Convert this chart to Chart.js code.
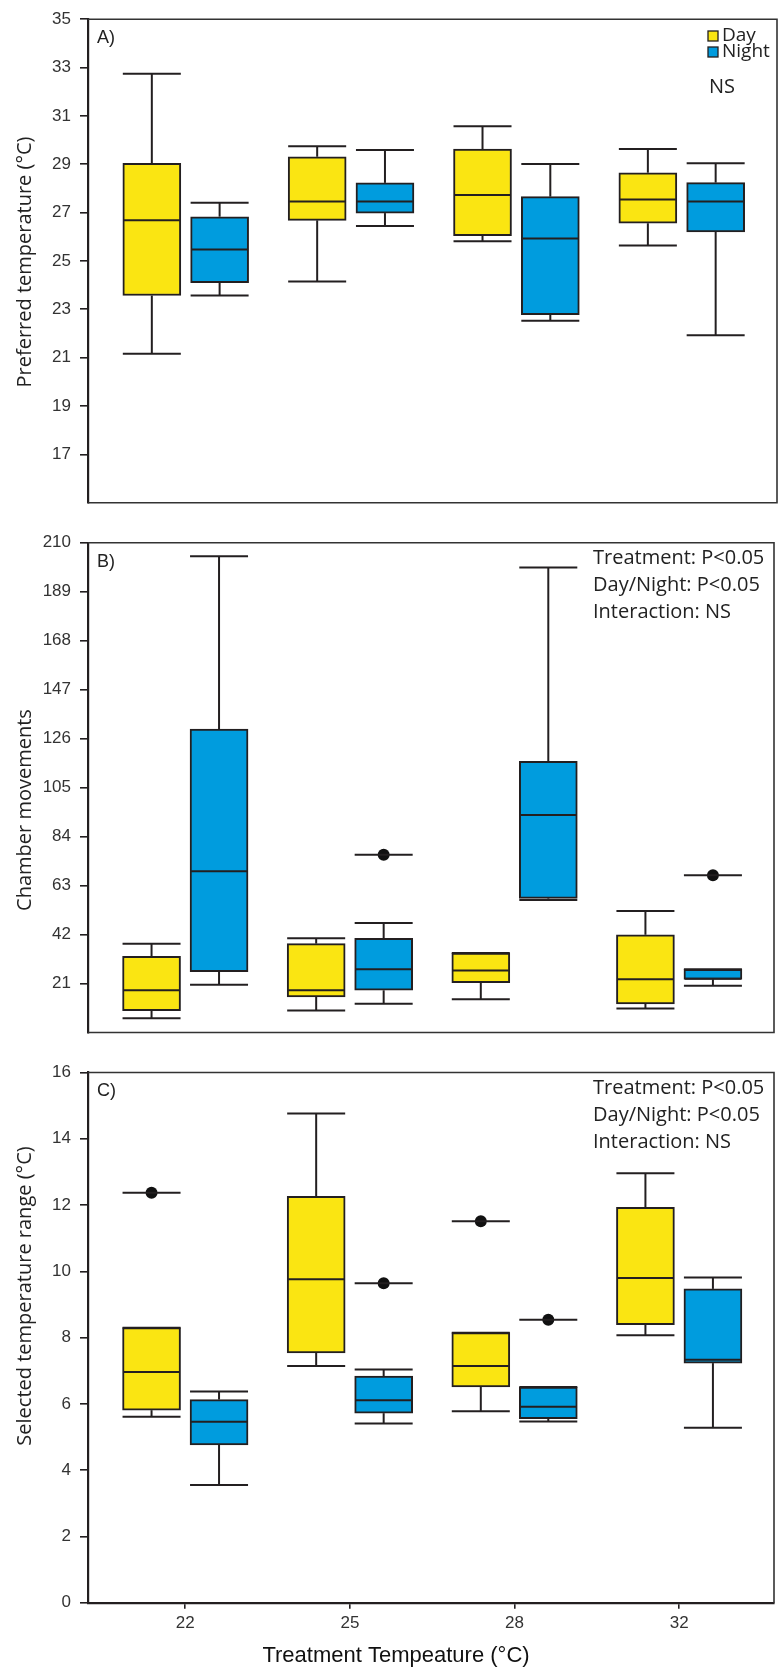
<!DOCTYPE html>
<html><head><meta charset="utf-8">
<script src="https://cdn.jsdelivr.net/npm/chart.js@4/dist/chart.umd.min.js"></script>
<style>
html,body{margin:0;padding:0;background:#fff;}
#wrap{position:relative;width:780px;height:1672px;overflow:hidden;}
canvas{position:absolute;left:0;top:0;}
</style></head><body>
<div id="wrap">
<canvas id="cA" width="780" height="1672"></canvas>
<canvas id="cB" width="780" height="1672"></canvas>
<canvas id="cC" width="780" height="1672"></canvas>
</div>
<script>
// ---------- DATA ----------
const categories = ['22', '25', '28', '32'];
const seriesNames = ['Day', 'Night'];
// each entry: [min, q1, median, q3, max]
const prefDay   = [[21.16, 23.57, 26.68, 29.04, 32.74], [24.15, 26.68, 27.46, 29.31, 29.74], [25.82, 26.05, 27.73, 29.63, 30.57], [25.64, 26.56, 27.54, 28.65, 29.63]];
const prefNight = [[23.57, 24.10, 25.47, 26.83, 27.41], [26.45, 26.98, 27.46, 28.23, 29.59], [22.53, 22.78, 25.93, 27.66, 29.01], [21.93, 26.20, 27.46, 28.24, 29.04]];
const moveDay   = [[6.1, 9.4, 18.1, 32.7, 38.1], [9.4, 15.3, 18.1, 38.1, 40.4], [14.3, 21.4, 26.6, 34.1, 34.1], [10.3, 12.3, 22.8, 41.9, 52.1]];
const moveNight = [[20.5, 26.1, 69.1, 130.1, 204.2], [12.3, 18.1, 27.1, 40.4, 46.9], [56.8, 57.5, 93.3, 116.3, 199.4], [20.0, 22.8, 23.0, 27.1, 27.1]];
const moveDayOutliers   = [null, null, null, null];
const moveNightOutliers = [null, 76.2, null, 67.4];
const rangeDay   = [[5.61, 5.81, 6.96, 8.30, 8.30], [7.14, 7.54, 9.76, 12.26, 14.76], [5.78, 6.51, 7.14, 8.15, 8.15], [8.07, 8.39, 9.80, 11.93, 12.96]];
const rangeNight = [[3.55, 4.76, 5.46, 6.13, 6.37], [5.41, 5.72, 6.11, 6.84, 7.04], [5.47, 5.55, 5.91, 6.51, 6.51], [5.28, 7.23, 7.33, 9.47, 9.81]];
const rangeDayOutliers   = [12.37, null, 11.51, null];
const rangeNightOutliers = [null, 9.64, 8.54, null];
const prefTicks  = [17, 19, 21, 23, 25, 27, 29, 31, 33, 35];
const moveTicks  = [21, 42, 63, 84, 105, 126, 147, 168, 189, 210];
const rangeTicks = [0, 2, 4, 6, 8, 10, 12, 14, 16];

// ---------- STYLE ----------
const DAY_COLOR = '#FAE512';
const NIGHT_COLOR = '#009CDE';
const INK = '#231F20';
const TICK_FONT = {family: "'Liberation Sans', Arial, sans-serif", size: 17};
const TEXT_FONT = "'Open Sans', sans-serif";
const OFFSET = 0.205;
const BOX_W = 58;
const LW = 2;

function boxDataset(label, stats, sign, color, outliers) {
  return {
    type: 'bar', label,
    data: stats.map((s, i) => ({x: i + sign * OFFSET, y: [s[1], s[3]]})),
    backgroundColor: color, borderColor: INK, borderWidth: LW,
    borderSkipped: false, barThickness: BOX_W, grouped: false,
    stats, outliers: outliers || null, order: 2
  };
}
function outlierDataset(outliers, sign) {
  const pts = [];
  outliers.forEach((v, i) => { if (v !== null) pts.push({x: i + sign * OFFSET, y: v}); });
  return {type: 'scatter', data: pts, pointRadius: 6, pointHoverRadius: 6,
          backgroundColor: '#111', borderWidth: 0, order: 1};
}

const whiskerPlugin = {
  id: 'whiskers',
  afterDatasetsDraw(chart) {
    const {ctx} = chart; const y = chart.scales.y;
    ctx.save();
    ctx.strokeStyle = INK; ctx.lineWidth = LW; ctx.lineCap = 'butt';
    const seg = (x1, y1, x2, y2) => { ctx.beginPath(); ctx.moveTo(x1, y1); ctx.lineTo(x2, y2); ctx.stroke(); };
    chart.data.datasets.forEach((ds, di) => {
      if (!ds.stats) return;
      const meta = chart.getDatasetMeta(di);
      ds.stats.forEach((s, i) => {
        const bar = meta.data[i]; if (!bar) return;
        const cx = bar.x, half = bar.width / 2;
        const [mn, q1, md, q3, mx] = s.map(v => y.getPixelForValue(v));
        if (Math.abs(mx - q3) > 0.5) { seg(cx, q3, cx, mx); }
        seg(cx - half, mx, cx + half, mx);
        if (Math.abs(mn - q1) > 0.5) { seg(cx, q1, cx, mn); }
        seg(cx - half, mn, cx + half, mn);
        seg(cx - half + 1, md, cx + half - 1, md);
        if (ds.outliers && ds.outliers[i] !== null) {
          const oy = y.getPixelForValue(ds.outliers[i]);
          seg(cx - half, oy, cx + half, oy);
        }
      });
    });
    ctx.restore();
  }
};

const framePlugin = {
  id: 'frame',
  afterDraw(chart, args, opts) {
    const {ctx, chartArea: a} = chart;
    ctx.save();
    ctx.strokeStyle = '#333'; ctx.lineWidth = 1.6;
    ctx.beginPath();
    ctx.moveTo(a.left, a.top); ctx.lineTo(a.right, a.top); ctx.lineTo(a.right, a.bottom);
    if (opts.bottom) ctx.lineTo(a.left, a.bottom);
    ctx.stroke();
    ctx.fillStyle = '#222';
    ctx.font = "18px 'Liberation Sans', Arial, sans-serif";
    ctx.textBaseline = 'middle'; ctx.textAlign = 'left';
    ctx.fillText(opts.letter, a.left + 9, a.top + 19);
    ctx.font = '20px ' + TEXT_FONT;
    ctx.textAlign = 'center';
    ctx.translate(25, opts.titleY);
    ctx.rotate(-Math.PI / 2);
    ctx.fillText(opts.title, 0, 0);
    ctx.restore();
    if (opts.notes) {
      ctx.save();
      ctx.fillStyle = '#222'; ctx.font = '20px ' + TEXT_FONT;
      ctx.textBaseline = 'middle'; ctx.textAlign = 'left';
      opts.notes.forEach((t, k) => ctx.fillText(t, 593, a.top + 16 + k * 27));
      ctx.restore();
    }
    if (opts.legend) {
      ctx.save();
      ctx.lineWidth = 1.3; ctx.strokeStyle = INK;
      ctx.font = '19px ' + TEXT_FONT; ctx.textBaseline = 'middle'; ctx.textAlign = 'left';
      [[DAY_COLOR, seriesNames[0], 31], [NIGHT_COLOR, seriesNames[1], 47]].forEach(([c, t, yy]) => {
        ctx.fillStyle = c; ctx.fillRect(708, yy, 10, 10); ctx.strokeRect(708, yy, 10, 10);
        ctx.fillStyle = '#222'; ctx.fillText(t, 722, yy + 5);
      });
      ctx.font = '20px ' + TEXT_FONT;
      ctx.fillText('NS', 709, 87);
      ctx.restore();
    }
    if (opts.xTitle) {
      ctx.save();
      ctx.fillStyle = '#111'; ctx.font = "22px 'Liberation Sans', Arial, sans-serif";
      ctx.textBaseline = 'middle'; ctx.textAlign = 'center';
      ctx.fillText(opts.xTitle, 396, 1656);
      ctx.restore();
    }
  }
};

function makeChart(id, cfg) {
  const yScale = {
    type: 'linear', min: cfg.min, max: cfg.max,
    afterBuildTicks: s => { s.ticks = cfg.ticks.map(v => ({value: v})); },
    afterFit: s => { s.width = 88; },
    ticks: {font: TICK_FONT, color: '#333', padding: 9, autoSkip: false},
    grid: {drawOnChartArea: false, drawTicks: true, tickLength: 8, color: INK, lineWidth: 1.6},
    border: {display: true, color: INK, width: 2.2}
  };
  const xScale = {
    type: 'linear', min: -0.591, max: 3.576, display: cfg.showX, offset: false,
    afterBuildTicks: s => { s.ticks = categories.map((c, i) => ({value: i})); },
    afterFit: s => { s.height = 40; },
    ticks: {font: TICK_FONT, color: '#333', padding: 4, autoSkip: false, maxRotation: 0,
            callback: v => categories[v]},
    grid: {offset: false, drawOnChartArea: false, drawTicks: true, tickLength: 6, color: INK, lineWidth: 1.6},
    border: {display: true, color: INK, width: 2.2}
  };
  const datasets = [
    boxDataset(seriesNames[0], cfg.day, -1, DAY_COLOR, cfg.dayOut),
    boxDataset(seriesNames[1], cfg.night, 1, NIGHT_COLOR, cfg.nightOut)
  ];
  if (cfg.dayOut) datasets.push(outlierDataset(cfg.dayOut, -1));
  if (cfg.nightOut) datasets.push(outlierDataset(cfg.nightOut, 1));
  return new Chart(document.getElementById(id), {
    type: 'bar',
    data: {datasets},
    options: {
      responsive: false, animation: false, devicePixelRatio: 1,
      layout: {padding: {left: 0, right: 3, top: cfg.padTop, bottom: cfg.padBottom}},
      plugins: {legend: {display: false}, tooltip: {enabled: false}, frame: cfg.frame},
      scales: {x: xScale, y: yScale}
    },
    plugins: [whiskerPlugin, framePlugin]
  });
}

makeChart('cA', {
  min: 15, max: 35, ticks: prefTicks, day: prefDay, night: prefNight,
  showX: false, padTop: 12.3, padBottom: 1672 - 542.7,
  frame: {letter: 'A)', title: 'Preferred temperature (°C)', titleY: 262, bottom: true, legend: true}
});
makeChart('cB', {
  min: 0, max: 210, ticks: moveTicks, day: moveDay, night: moveNight,
  dayOut: null, nightOut: moveNightOutliers,
  showX: false, padTop: 542.7, padBottom: 1672 - 1072.5,
  frame: {letter: 'B)', title: 'Chamber movements', titleY: 810, bottom: true,
          notes: ['Treatment: P<0.05', 'Day/Night: P<0.05', 'Interaction: NS']}
});
makeChart('cC', {
  min: 0, max: 16, ticks: rangeTicks, day: rangeDay, night: rangeNight,
  dayOut: rangeDayOutliers, nightOut: rangeNightOutliers,
  showX: true, padTop: 1072.5, padBottom: 1672 - 1602.7 - 40,
  frame: {letter: 'C)', title: 'Selected temperature range (°C)', titleY: 1296, bottom: false,
          notes: ['Treatment: P<0.05', 'Day/Night: P<0.05', 'Interaction: NS'],
          xTitle: 'Treatment Tempeature (°C)'}
});
</script>
</body></html>
